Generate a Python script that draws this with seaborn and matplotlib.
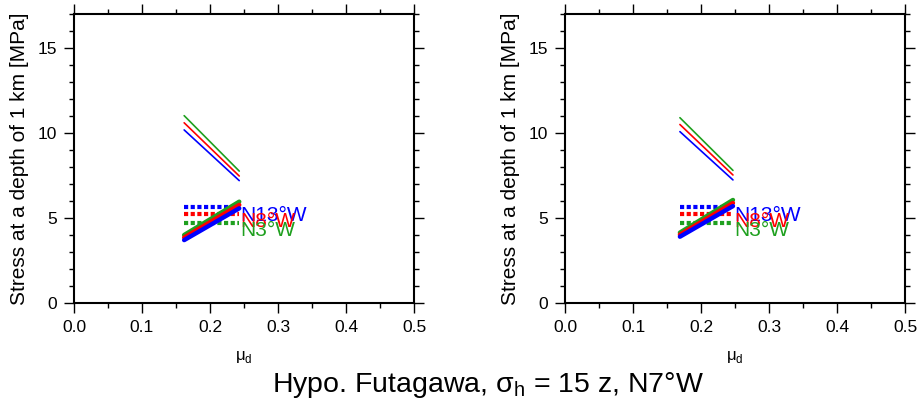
import matplotlib
matplotlib.use("Agg")
import matplotlib.pyplot as plt
import seaborn as sns
from matplotlib.ticker import MultipleLocator

sns.set_theme(style="white")
plt.rcParams['font.family'] = ['Liberation Sans', 'DejaVu Sans']
plt.rcParams['mathtext.fontset'] = 'custom'
plt.rcParams['mathtext.rm'] = 'Liberation Sans'
plt.rcParams['text.color'] = 'black'
plt.rcParams['axes.labelcolor'] = 'black'
plt.rcParams['xtick.color'] = 'black'
plt.rcParams['ytick.color'] = 'black'

# ---- data ----
labels = ["N13°W", "N8°W", "N3°W"]
colors = ["#0000ff", "#ff0000", "#1fa01f"]

# left panel
left_x = [0.162, 0.243]
left_desc = {"N13°W": [10.18, 7.20], "N8°W": [10.60, 7.47], "N3°W": [11.02, 7.76]}
left_rise = {"N13°W": [3.70, 5.57], "N8°W": [3.85, 5.77], "N3°W": [4.00, 5.96]}
left_flat = {"N13°W": [5.67, 5.67], "N8°W": [5.25, 5.25], "N3°W": [4.70, 4.70]}
left_lab_y = {"N13°W": 5.15, "N8°W": 4.80, "N3°W": 4.25}

# right panel
right_x = [0.169, 0.247]
right_desc = {"N13°W": [10.08, 7.24], "N8°W": [10.50, 7.53], "N3°W": [10.90, 7.80]}
right_rise = {"N13°W": [3.90, 5.70], "N8°W": [4.02, 5.88], "N3°W": [4.14, 6.06]}
right_flat = {"N13°W": [5.67, 5.67], "N8°W": [5.25, 5.25], "N3°W": [4.69, 4.69]}
right_lab_y = {"N13°W": 5.15, "N8°W": 4.80, "N3°W": 4.25}

x_ticks = [0.0, 0.1, 0.2, 0.3, 0.4, 0.5]
y_ticks = [0, 5, 10, 15]
ylabel = "Stress at a depth of 1 km [MPa]"
xlabel = r"μ$_\mathrm{d}$"
title = r"Hypo. Futagawa, σ$_\mathrm{h}$ = 15 z, N7°W"

fig = plt.figure(figsize=(9.19, 4.05), dpi=100)
ax1 = fig.add_axes([74/919, 102/405, 340/919, 289/405])
ax2 = fig.add_axes([565/919, 102/405, 340/919, 289/405])


def draw(ax, xs, desc, rise, flat, laby):
    for lab, c in zip(labels[::-1], colors[::-1]):
        sns.lineplot(x=xs, y=desc[lab], color=c, lw=1.2, ax=ax)
    for lab, c in zip(labels[::-1], colors[::-1]):
        sns.lineplot(x=xs, y=flat[lab], color=c, lw=3, ax=ax,
                     linestyle=(0, (1, 0.6)))
    for lab, c in zip(labels[::-1], colors[::-1]):
        sns.lineplot(x=xs, y=rise[lab], color=c, lw=3.2, ax=ax)
    for lab, c in zip(labels, colors):
        ax.text(xs[1] + 0.002, laby[lab], lab, color=c, fontsize=15,
                ha="left", va="center")
    ax.set_xlim(0, 0.5)
    ax.set_ylim(0, 17)
    ax.set_xticks(x_ticks)
    ax.set_xticklabels([f"{v:.1f}" for v in x_ticks])
    ax.set_yticks(y_ticks)
    ax.xaxis.set_minor_locator(MultipleLocator(0.05))
    ax.yaxis.set_minor_locator(MultipleLocator(1))
    ax.tick_params(which="both", direction="out", top=True, right=True,
                   bottom=True, left=True, color="black", width=1.0,
                   labeltop=False, labelright=False)
    ax.tick_params(which="major", length=7, labelsize=12.5, pad=5)
    ax.tick_params(which="minor", length=3.5)
    for s in ax.spines.values():
        s.set_visible(True)
        s.set_color("black")
        s.set_linewidth(1.5)
    ax.set_xlabel(xlabel, fontsize=12, labelpad=10)
    ax.set_ylabel(ylabel, fontsize=15, labelpad=6)
    ax.grid(False)


draw(ax1, left_x, left_desc, left_rise, left_flat, left_lab_y)
draw(ax2, right_x, right_desc, right_rise, right_flat, right_lab_y)

fig.text(488/919, 1 - 385/405, title, ha="center", va="center", fontsize=20.5)

fig.savefig("out.png", dpi=100)
